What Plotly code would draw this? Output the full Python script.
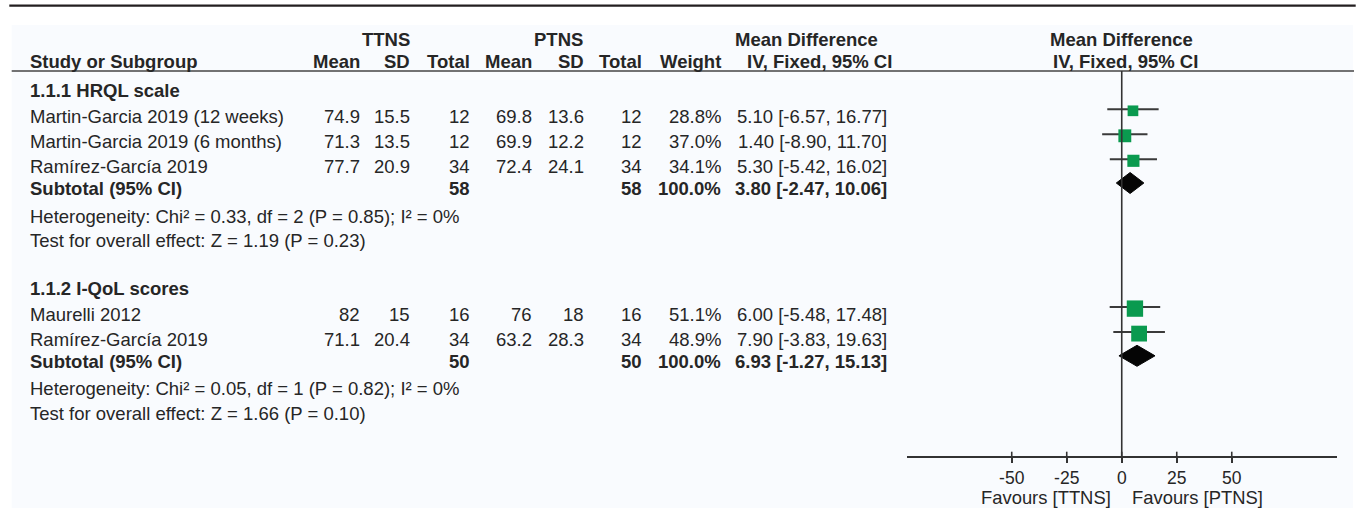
import plotly.graph_objects as go

W, H = 1360, 508
FONT = "Liberation Sans, Arial, Helvetica, sans-serif"
TXT = "#262626"
LINE = "#333333"
GREEN = "#0a9a4f"

# ---- data -----------------------------------------------------------------
group_titles = ["1.1.1 HRQL scale", "1.1.2 I-QoL scores"]

g1_study = ["Martin-Garcia 2019 (12 weeks)", "Martin-Garcia 2019 (6 months)", "Ramírez-García 2019"]
g1_ttns_mean = [74.9, 71.3, 77.7]
g1_ttns_sd = [15.5, 13.5, 20.9]
g1_ttns_n = [12, 12, 34]
g1_ptns_mean = [69.8, 69.9, 72.4]
g1_ptns_sd = [13.6, 12.2, 24.1]
g1_ptns_n = [12, 12, 34]
g1_weight = [28.8, 37.0, 34.1]
g1_md = [5.10, 1.40, 5.30]
g1_lo = [-6.57, -8.90, -5.42]
g1_hi = [16.77, 11.70, 16.02]

g2_study = ["Maurelli 2012", "Ramírez-García 2019"]
g2_ttns_mean = [82, 71.1]
g2_ttns_sd = [15, 20.4]
g2_ttns_n = [16, 34]
g2_ptns_mean = [76, 63.2]
g2_ptns_sd = [18, 28.3]
g2_ptns_n = [16, 34]
g2_weight = [51.1, 48.9]
g2_md = [6.00, 7.90]
g2_lo = [-5.48, -3.83]
g2_hi = [17.48, 19.63]

sub_weight = [100.0, 100.0]
sub_md = [3.80, 6.93]
sub_lo = [-2.47, -1.27]
sub_hi = [10.06, 15.13]
het_chi2 = [0.33, 0.05]
het_df = [2, 1]
het_p = [0.85, 0.82]
het_i2 = [0, 0]
z_val = [1.19, 1.66]
z_p = [0.23, 0.10]

axis_ticks = [-50, -25, 0, 25, 50]
favours = ["Favours [TTNS]", "Favours [PTNS]"]

groups = [
    dict(study=g1_study, tm=g1_ttns_mean, tsd=g1_ttns_sd, tn=g1_ttns_n,
         pm=g1_ptns_mean, psd=g1_ptns_sd, pn=g1_ptns_n, w=g1_weight,
         md=g1_md, lo=g1_lo, hi=g1_hi),
    dict(study=g2_study, tm=g2_ttns_mean, tsd=g2_ttns_sd, tn=g2_ttns_n,
         pm=g2_ptns_mean, psd=g2_ptns_sd, pn=g2_ptns_n, w=g2_weight,
         md=g2_md, lo=g2_lo, hi=g2_hi),
]

# ---- layout geometry (pixels) -------------------------------------------
group_top = [90.2, 288.0]        # centre of the subgroup title row
STUDY0, PITCH = 26.1, 25.0       # first study row offset, row pitch
SUB_GAP, HET_GAP, TEST_GAP = 22.2, 27.5, 24.3
MARK_DY = -5.5                   # plotted marks sit slightly above text centre

X_STUDY = 28
COLS = dict(tm=362, tsd=412, tn=472, pm=534, psd=586, pn=644, w=723, ci=889)

AX_L, AX_R, AX_Y = 907.0, 1336.7, 456.7
X_MIN, X_MAX = -97.6, 97.7
HEADER_RULE_Y = 71.0

annotations = []


def txt(x, y, s, anchor="left", bold=False, size=18.5, xref="paper", xshift=0):
    annotations.append(dict(
        x=x / W if xref == "paper" else x, y=y, xref=xref, yref="y",
        text=f"<b>{s}</b>" if bold else s, showarrow=False,
        xanchor=anchor, yanchor="middle", xshift=xshift,
        font=dict(family=FONT, size=size, color=TXT)))


def fmt(v):
    return f"{v:g}"


def ci_text(m, l, h):
    return f"{m:.2f} [{l:.2f}, {h:.2f}]"


# header rows
H1, H2 = 39.5, 61.3
txt(386, H1, "TTNS", "center", True)
txt(558, H1, "PTNS", "center", True)
txt(806.5, H1, "Mean Difference", "center", True)
txt(1121.5, H1, "Mean Difference", "center", True)
txt(X_STUDY, H2, "Study or Subgroup", "left", True)
for key, lab in [("tm", "Mean"), ("tsd", "SD"), ("tn", "Total"),
                 ("pm", "Mean"), ("psd", "SD"), ("pn", "Total"), ("w", "Weight")]:
    txt(COLS[key], H2, lab, "right", True)
txt(819, H2, "IV, Fixed, 95% CI", "center", True)
txt(1125, H2, "IV, Fixed, 95% CI", "center", True)

ci_x, ci_y = [], []
sq_x, sq_y, sq_size = [], [], []
diamonds = []

for gi, g in enumerate(groups):
    y0 = group_top[gi]
    txt(X_STUDY, y0, group_titles[gi], "left", True)
    n = len(g["study"])
    for i in range(n):
        y = y0 + STUDY0 + PITCH * i
        txt(X_STUDY, y, g["study"][i])
        txt(COLS["tm"], y, fmt(g["tm"][i]), "right")
        txt(COLS["tsd"], y, fmt(g["tsd"][i]), "right")
        txt(COLS["tn"], y, fmt(g["tn"][i]), "right")
        txt(COLS["pm"], y, fmt(g["pm"][i]), "right")
        txt(COLS["psd"], y, fmt(g["psd"][i]), "right")
        txt(COLS["pn"], y, fmt(g["pn"][i]), "right")
        txt(COLS["w"], y, f"{g['w'][i]:.1f}%", "right")
        txt(COLS["ci"], y, ci_text(g["md"][i], g["lo"][i], g["hi"][i]), "right")
        ym = y + MARK_DY
        ci_x += [g["lo"][i], g["hi"][i], None]
        ci_y += [ym - 1.5, ym - 1.5, None]
        sq_x.append(g["md"][i])
        sq_y.append(ym)
        sq_size.append(0.89 * g["w"][i] ** 0.74)
    ys = y0 + STUDY0 + PITCH * (n - 1) + SUB_GAP
    txt(X_STUDY, ys, "Subtotal (95% CI)", "left", True)
    txt(COLS["tn"], ys, str(sum(g["tn"])), "right", True)
    txt(COLS["pn"], ys, str(sum(g["pn"])), "right", True)
    txt(COLS["w"], ys, f"{sub_weight[gi]:.1f}%", "right", True)
    txt(COLS["ci"], ys, ci_text(sub_md[gi], sub_lo[gi], sub_hi[gi]), "right", True)
    diamonds.append((sub_lo[gi], sub_md[gi], sub_hi[gi], ys + MARK_DY))
    yh = ys + HET_GAP
    txt(X_STUDY, yh, f"Heterogeneity: Chi² = {het_chi2[gi]:.2f}, df = {het_df[gi]} "
                     f"(P = {het_p[gi]:.2f}); I² = {het_i2[gi]}%")
    yt = yh + TEST_GAP
    txt(X_STUDY, yt, f"Test for overall effect: Z = {z_val[gi]:.2f} (P = {z_p[gi]:.2f})")

# favours labels under the axis
txt(0, 497.5, favours[0], "right", xref="x", xshift=-8.5, size=18.4)
txt(0, 497.5, favours[1], "left", xref="x", xshift=8.5, size=18.4)

fig = go.Figure()

# confidence interval whiskers
fig.add_trace(go.Scatter(x=ci_x, y=ci_y, mode="lines",
                         line=dict(color="#3a3a3a", width=2),
                         hoverinfo="skip", showlegend=False))
# study weights as squares
fig.add_trace(go.Scatter(x=sq_x, y=sq_y, mode="markers",
                         marker=dict(symbol="square", size=sq_size, color=GREEN,
                                     opacity=1, line=dict(width=0)),
                         showlegend=False))
# pooled estimates as diamonds
DH = 10.5
for lo, md, hi, yd in diamonds:
    fig.add_trace(go.Scatter(x=[lo, md, hi, md, lo], y=[yd, yd - DH, yd, yd + DH, yd],
                             mode="lines", fill="toself", fillcolor="#050505",
                             line=dict(color="#050505", width=1),
                             hoverinfo="skip", showlegend=False))

shapes = [
    # light panel behind the table
    dict(type="rect", xref="paper", yref="y", x0=11.7 / W, x1=1353 / W, y0=25, y1=H,
         fillcolor="#f9fbfe", line=dict(width=0), layer="below"),
    # top rule
    dict(type="line", xref="paper", yref="y", x0=9.3 / W, x1=1355.7 / W, y0=5.7, y1=5.7,
         line=dict(color="#231f20", width=2.2)),
    # header rule
    dict(type="line", xref="paper", yref="y", x0=11.7 / W, x1=1354 / W,
         y0=HEADER_RULE_Y, y1=HEADER_RULE_Y, line=dict(color="#444444", width=1.6)),
    # line of no effect
    dict(type="line", xref="x", yref="y", x0=0, x1=0, y0=HEADER_RULE_Y, y1=AX_Y,
         line=dict(color=LINE, width=1.6)),
]
# upper half of the crossing tick marks
for t in axis_ticks:
    shapes.append(dict(type="line", xref="x", yref="y", x0=t, x1=t, y0=AX_Y - 5, y1=AX_Y,
                       line=dict(color=LINE, width=1.6)))

fig.update_layout(
    width=W, height=H, margin=dict(l=0, r=0, t=0, b=0),
    paper_bgcolor="white", plot_bgcolor="rgba(0,0,0,0)",
    showlegend=False, annotations=annotations, shapes=shapes,
    xaxis=dict(domain=[AX_L / W, AX_R / W], range=[X_MIN, X_MAX],
               anchor="free", position=1 - AX_Y / H,
               showline=True, linecolor=LINE, linewidth=1.6,
               tickvals=axis_ticks, ticktext=[str(t) for t in axis_ticks],
               ticks="outside", ticklen=5, tickwidth=1.6, tickcolor=LINE,
               tickfont=dict(family=FONT, size=17.5, color=TXT),
               showgrid=False, zeroline=False, fixedrange=True),
    yaxis=dict(domain=[0, 1], range=[H, 0], visible=False, fixedrange=True),
)

fig.write_html("out.html")
